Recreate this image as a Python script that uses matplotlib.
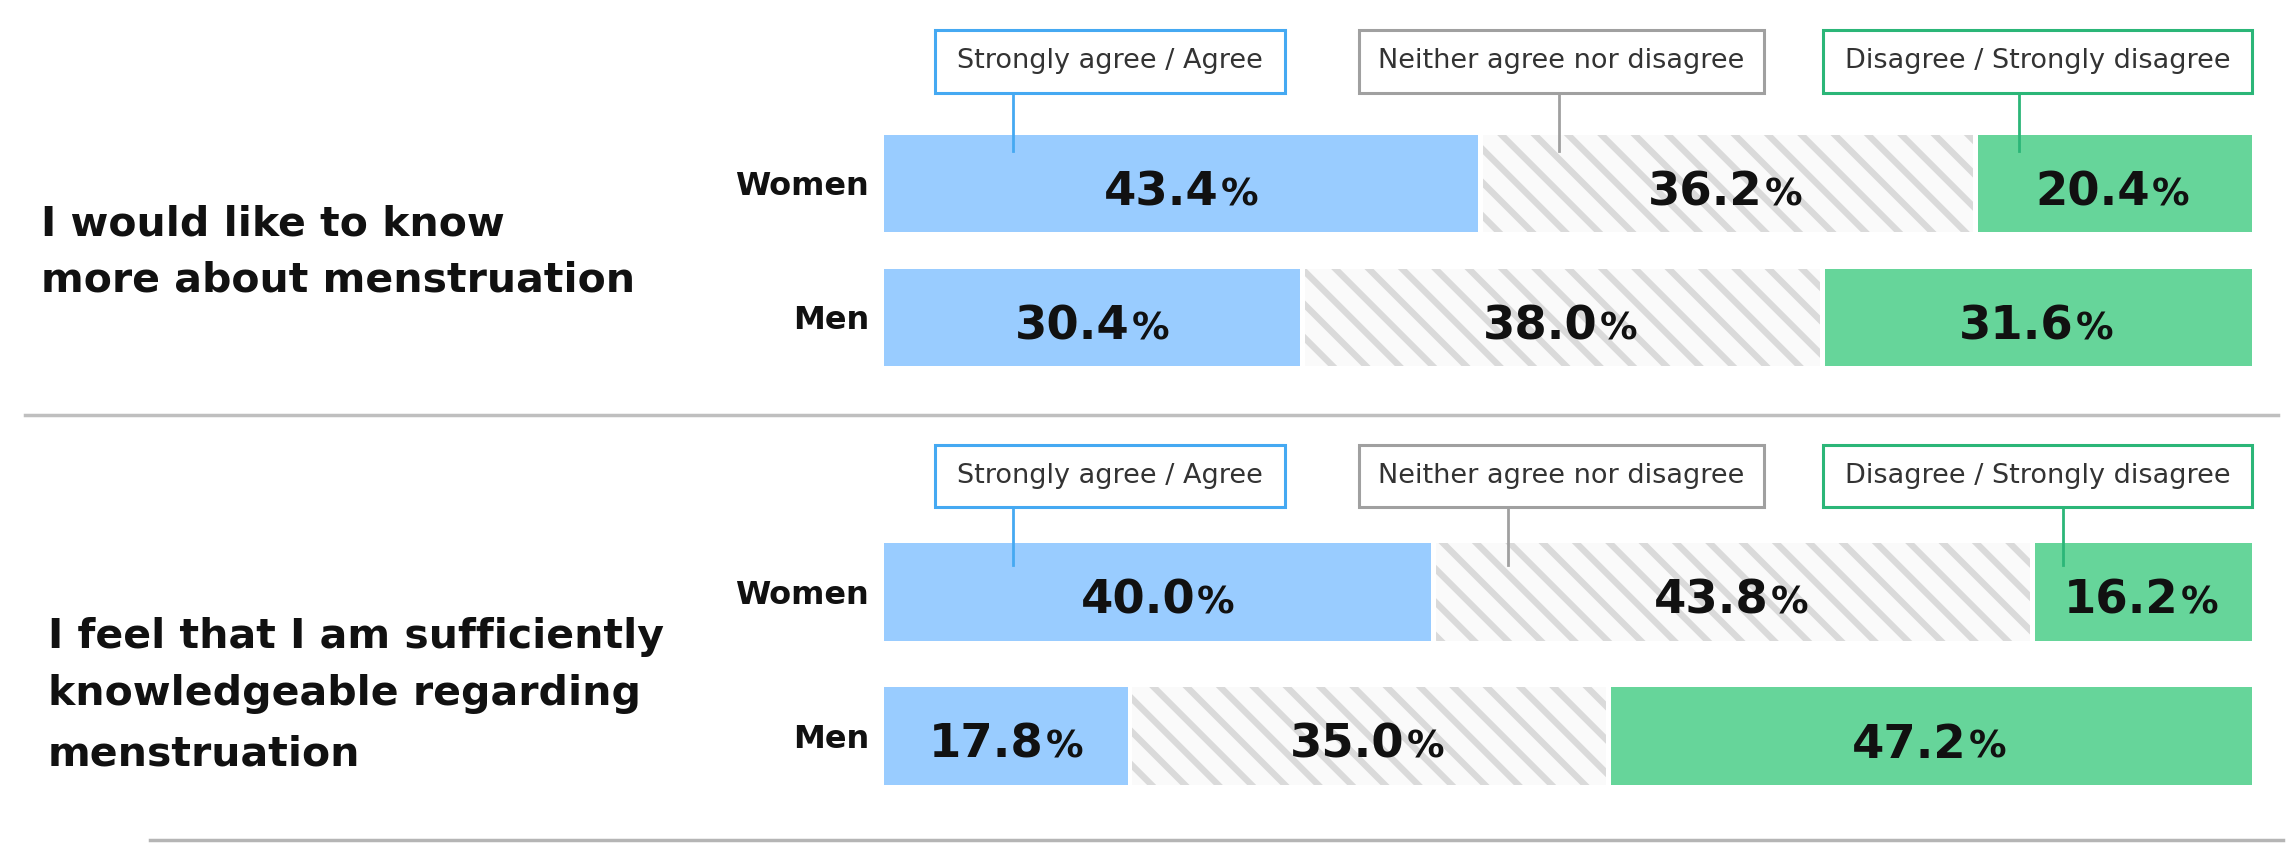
import matplotlib.pyplot as plt
from matplotlib.patches import Rectangle
from matplotlib import transforms

W, H = 2286, 868

# Dados
questions = [
    ["I would like to know", "more about menstruation"],
    ["I feel that I am sufficiently", "knowledgeable regarding", "menstruation"],
]
groups = ["Women", "Men"]
categories = ["Strongly agree / Agree", "Neither agree nor disagree", "Disagree / Strongly disagree"]
q1_women = [43.4, 36.2, 20.4]
q1_men = [30.4, 38.0, 31.6]
q2_women = [40.0, 43.8, 16.2]
q2_men = [17.8, 35.0, 47.2]

# Estilos
fills = ["#99CCFF", "#FAFAFA", "#66D59A"]
edges = ["#45A9F2", "#A0A0A0", "#2BB678"]
hatch_col = "#DADADA"

plt.rcParams['hatch.linewidth'] = 4.6
plt.rcParams['hatch.color'] = hatch_col

# Layout em pixels (topo = 0)
bar_left, bar_right = 884, 2252
box_x = [(935, 1285), (1359, 1764), (1823, 2252)]
panels = [
    dict(data=[q1_women, q1_men], tops=[135, 269], h=97, box_y=(30, 93),
         conn_x=[1013, 1559, 2019], conn_end=151, text_x=41, text_base=[235, 292]),
    dict(data=[q2_women, q2_men], tops=[543, 687], h=98, box_y=(445, 507),
         conn_x=[1013, 1508, 2063], conn_end=565, text_x=48, text_base=[648, 705, 765]),
]
gap = 0.35

fig = plt.figure(figsize=(W / 100, H / 100), dpi=100)
renderer = fig.canvas.get_renderer()


def pct_label(ax, x, y, val):
    num = ax.text(x, y, f'{val:.1f}', fontsize=33.5, fontweight='bold', color='#111111',
                  ha='left', va='baseline')
    pct = ax.text(x, y, '%', fontsize=27, fontweight='bold', color='#111111',
                  ha='left', va='baseline')
    w1 = num.get_window_extent(renderer).width
    w2 = pct.get_window_extent(renderer).width
    total = w1 + w2 + 2
    dy = 0.729 * 33.5 * 100 / 72 / 2 + 5
    num.set_transform(transforms.offset_copy(ax.transData, fig=fig, x=-total / 2, y=-dy, units='dots'))
    pct.set_transform(transforms.offset_copy(ax.transData, fig=fig, x=-total / 2 + w1 + 2, y=-dy, units='dots'))


for p in panels:
    top = p['tops'][0]
    bottom = p['tops'][1] + p['h']
    ax = fig.add_axes([bar_left / W, 1 - bottom / H, (bar_right - bar_left) / W, (bottom - top) / H])
    ax.set_xlim(0, 100)
    ax.set_ylim(bottom, top)
    ax.axis('off')
    for g, vals in enumerate(p['data']):
        yc = p['tops'][g] + p['h'] / 2
        cum = 0
        for i, v in enumerate(vals):
            off = gap if i > 0 else 0
            if i == 1:
                ax.barh(yc, v - off, left=cum + off, height=p['h'], color=fills[i],
                        edgecolor=hatch_col, hatch='\\', linewidth=0)
            else:
                ax.barh(yc, v - off, left=cum + off, height=p['h'], color=fills[i], linewidth=0)
            pct_label(ax, cum + v / 2, yc, v)
            cum += v

# Camada de cima: textos, caixas, linhas
ov = fig.add_axes([0, 0, 1, 1], zorder=5)
ov.set_xlim(0, W)
ov.set_ylim(H, 0)
ov.axis('off')
ov.patch.set_alpha(0)

for p, q in zip(panels, questions):
    y0, y1 = p['box_y']
    for i, (x0, x1) in enumerate(box_x):
        ov.add_patch(Rectangle((x0, y0), x1 - x0, y1 - y0, facecolor='white',
                               edgecolor=edges[i], linewidth=2.2))
        ov.text((x0 + x1) / 2, (y0 + y1) / 2, categories[i], fontsize=19.5, color='#333333',
                ha='center', va='center')
        ov.plot([p['conn_x'][i]] * 2, [y1, p['conn_end']], color=edges[i], linewidth=2)
    for g, name in enumerate(groups):
        yc = p['tops'][g] + p['h'] / 2
        ov.text(869, yc + 0.729 * 23 * 100 / 72 / 2, name, fontsize=23, fontweight='bold',
                color='#111111', ha='right', va='baseline')
    for line, yb in zip(q, p['text_base']):
        ov.text(p['text_x'], yb, line, fontsize=29.5, fontweight='bold', color='#111111',
                ha='left', va='baseline')

ov.plot([25, 2278], [415, 415], color='#BFBFBF', linewidth=2.5)
ov.plot([150, 2283], [840, 840], color='#B5B5B5', linewidth=2.5)

fig.savefig('out.png', dpi=100)
